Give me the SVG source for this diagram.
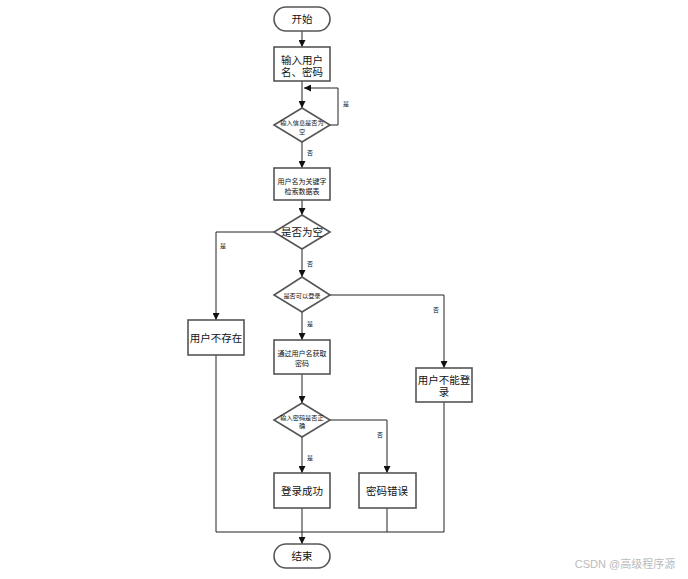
<svg xmlns="http://www.w3.org/2000/svg" width="688" height="579" viewBox="0 0 688 579">
<style>
.n{fill:#fff;stroke:#555;stroke-width:1.6}
.t{font-family:"Liberation Sans","Noto Sans CJK SC",sans-serif;fill:#111;text-anchor:middle;dominant-baseline:central}
.b{font-size:10.5px}
.s{font-size:7px}
.xs{font-size:6.2px}
.l{font-size:6px}
.c{fill:none;stroke:#222;stroke-width:1}
</style>
<defs>
<marker id="a" viewBox="0 0 10 10" refX="10" refY="5" markerWidth="7" markerHeight="7" markerUnits="userSpaceOnUse" orient="auto"><path d="M0,0L10,5L0,10z" fill="#111"/></marker>
</defs>
<rect width="688" height="579" fill="#fff"/>
<g id="connectors">
<path class="c" d="M302,31V47" marker-end="url(#a)"/>
<path class="c" d="M302,81V108" marker-end="url(#a)"/>
<path class="c" d="M330,125H338V88H304" marker-end="url(#a)"/>
<path class="c" d="M302,142V168" marker-end="url(#a)"/>
<path class="c" d="M302,200V215" marker-end="url(#a)"/>
<path class="c" d="M302,249V277" marker-end="url(#a)"/>
<path class="c" d="M274,232H216V320" marker-end="url(#a)"/>
<path class="c" d="M330,295H444V368" marker-end="url(#a)"/>
<path class="c" d="M302,312V340" marker-end="url(#a)"/>
<path class="c" d="M302,374V403" marker-end="url(#a)"/>
<path class="c" d="M330,420H387V473" marker-end="url(#a)"/>
<path class="c" d="M302,437V473" marker-end="url(#a)"/>
<path class="c" d="M302,508V544" marker-end="url(#a)"/>
<path class="c" d="M216,355V532H444V402"/>
<path class="c" d="M387,508V532"/>
<text class="t l" x="346" y="104">是</text>
<text class="t l" x="310" y="153">否</text>
<text class="t l" x="223" y="246">是</text>
<text class="t l" x="310" y="264">否</text>
<text class="t l" x="436" y="310">否</text>
<text class="t l" x="310" y="324">是</text>
<text class="t l" x="380" y="435">否</text>
<text class="t l" x="310" y="458">是</text>
</g>
<g id="start">
<rect class="n" x="274" y="7" width="56" height="24" rx="12"/>
<text class="t b" x="302" y="19">开始</text>
</g>
<g id="input">
<rect class="n" x="274" y="47" width="56" height="34"/>
<text class="t b" x="302" y="60">输入用户</text>
<text class="t b" x="302" y="72">名、密码</text>
</g>
<g id="d1">
<path class="n" d="M302,108L330,125L302,142L274,125Z"/>
<text class="t xs" x="302" y="122">输入信息是否为</text>
<text class="t xs" x="302" y="131">空</text>
</g>
<g id="search">
<rect class="n" x="274" y="168" width="56" height="32"/>
<text class="t s" x="302" y="181">用户名为关键字</text>
<text class="t s" x="302" y="191">检索数据表</text>
</g>
<g id="d2">
<path class="n" d="M302,215L330,232L302,249L274,232Z"/>
<text class="t b" x="302" y="232">是否为空</text>
</g>
<g id="d3">
<path class="n" d="M302,277L330,295L302,312L274,295Z"/>
<text class="t xs" x="302" y="295">是否可以登录</text>
</g>
<g id="notexist">
<rect class="n" x="188" y="320" width="56" height="35"/>
<text class="t b" x="216" y="338">用户不存在</text>
</g>
<g id="cannot">
<rect class="n" x="416" y="368" width="56" height="34"/>
<text class="t b" x="444" y="380">用户不能登</text>
<text class="t b" x="444" y="392">录</text>
</g>
<g id="getpwd">
<rect class="n" x="274" y="340" width="56" height="34"/>
<text class="t s" x="302" y="353">通过用户名获取</text>
<text class="t s" x="302" y="363">密码</text>
</g>
<g id="d4">
<path class="n" d="M302,403L330,420L302,437L274,420Z"/>
<text class="t xs" x="302" y="417">输入密码是否正</text>
<text class="t xs" x="302" y="425">确</text>
</g>
<g id="success">
<rect class="n" x="274" y="473" width="56" height="35"/>
<text class="t b" x="302" y="491">登录成功</text>
</g>
<g id="wrong">
<rect class="n" x="359" y="473" width="57" height="35"/>
<text class="t b" x="387" y="491">密码错误</text>
</g>
<g id="end">
<rect class="n" x="274" y="544" width="56" height="24" rx="12"/>
<text class="t b" x="302" y="556">结束</text>
</g>
<text x="625" y="564" font-family="'Liberation Sans','Noto Sans CJK SC',sans-serif" font-size="11" fill="#bbb" text-anchor="middle" dominant-baseline="central">CSDN @高级程序源</text>
</svg>
